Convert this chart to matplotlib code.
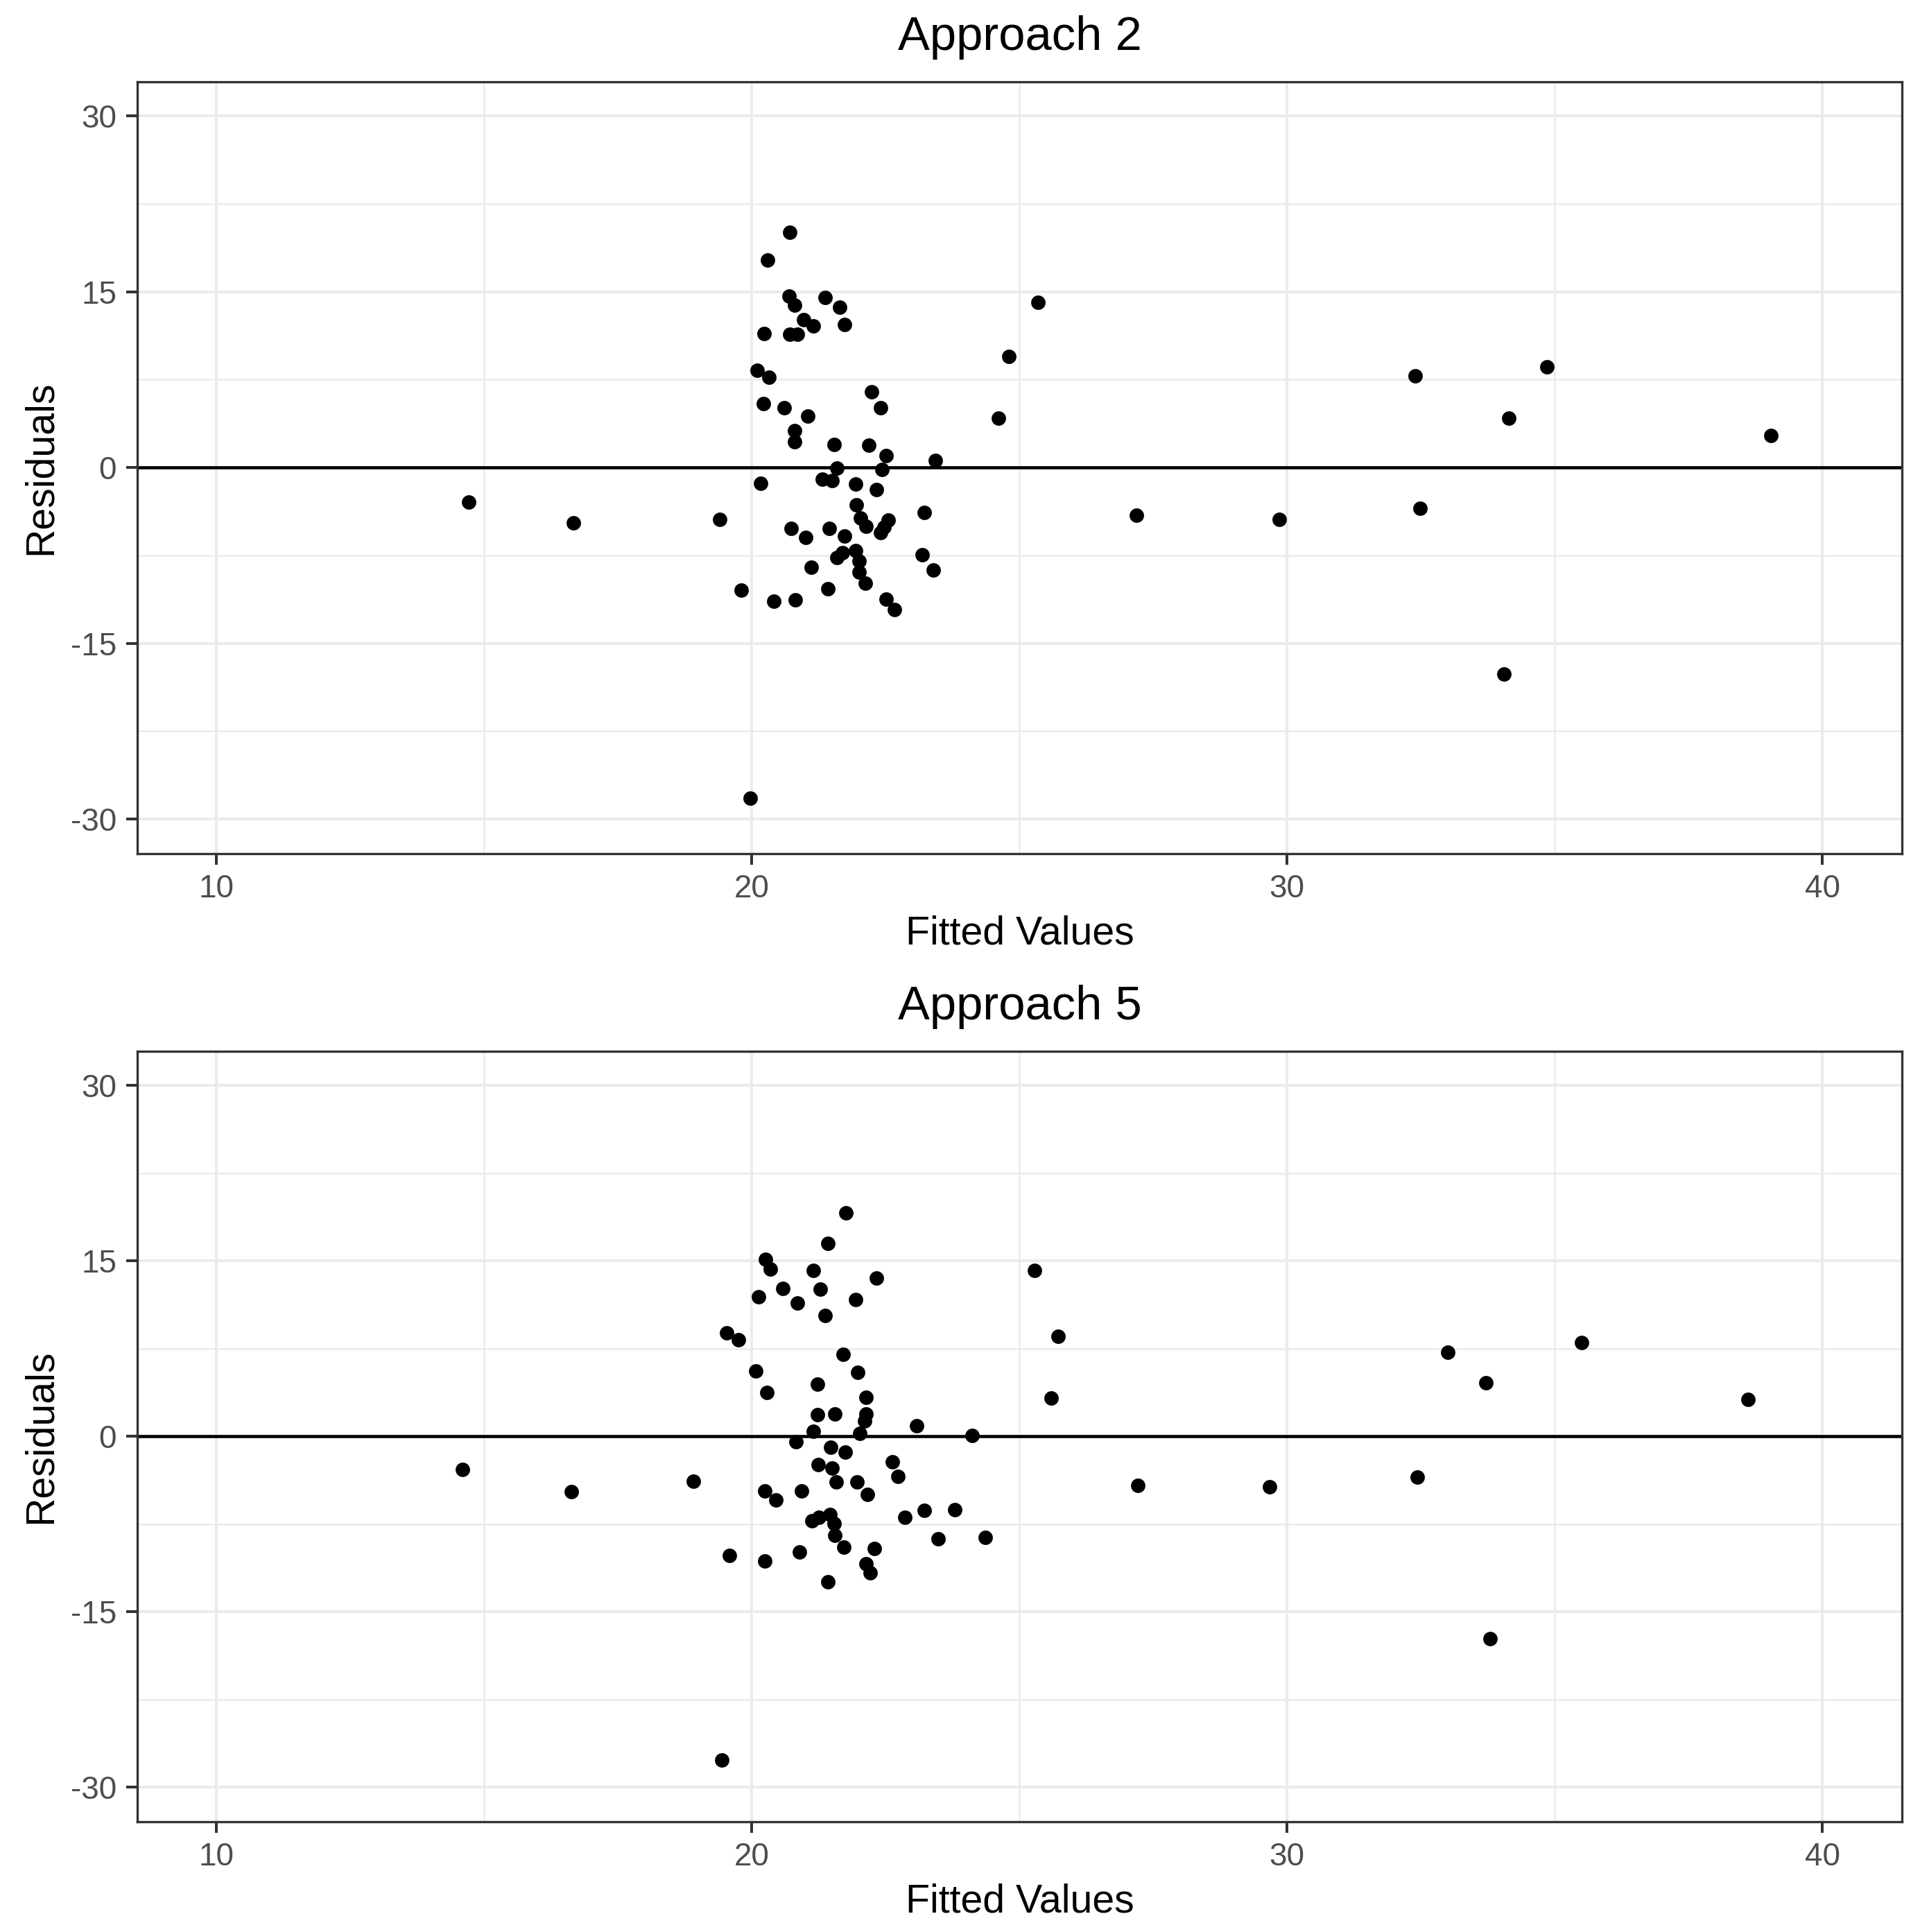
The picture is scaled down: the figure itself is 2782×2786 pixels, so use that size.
import matplotlib
matplotlib.use("Agg")
import matplotlib.pyplot as plt
from matplotlib.ticker import MultipleLocator

plt.rcParams['font.family'] = ['Liberation Sans', 'DejaVu Sans']
plt.rcParams['axes.unicode_minus'] = False

# residuals vs fitted, approach 2
fitted2 = [20.72, 20.30, 20.70, 20.81, 21.37, 21.64, 20.97, 21.15, 21.74, 20.24,
           20.71, 20.86, 20.11, 20.33, 22.24, 22.41, 20.22, 20.61, 21.05, 20.81,
           20.80, 21.54, 22.19, 22.51, 23.44, 21.59, 22.44, 20.17, 21.32, 21.51,
           21.95, 22.33, 21.96, 19.40, 23.23, 22.04, 22.14, 22.55, 22.47, 22.41,
           20.74, 21.01, 21.45, 21.74, 21.60, 21.70, 21.94, 22.01, 22.01, 22.12,
           23.19, 23.40, 21.12, 19.81, 20.42, 20.82, 21.42, 22.51, 22.67,
           14.72, 16.67, 24.61, 24.80, 25.35, 27.19, 29.86, 32.39, 32.49, 34.05,
           34.14, 34.86, 39.04, 19.98]
resid2 = [20.1, 17.7, 14.65, 13.87, 14.5, 13.7, 12.64, 12.1, 12.2, 11.44,
          11.36, 11.36, 8.3, 7.71, 6.46, 5.08, 5.44, 5.08, 4.41, 3.17,
          2.22, 1.94, 1.88, 0.99, 0.6, -0.03, -0.19, -1.37, -0.98, -1.14,
          -1.43, -1.88, -3.19, -4.43, -3.84, -4.33, -5.02, -4.47, -5.08, -5.58,
          -5.18, -5.97, -5.18, -5.83, -7.69, -7.29, -7.09, -7.98, -8.91, -9.86,
          -7.45, -8.75, -8.48, -10.45, -11.4, -11.28, -10.35, -11.24, -12.13,
          -2.95, -4.74, 4.2, 9.47, 14.1, -4.1, -4.4, 7.8, -3.47, -17.6,
          4.2, 8.6, 2.74, -28.2]

# residuals vs fitted, approach 5
fitted5 = [21.76, 21.42, 20.26, 20.35, 21.15, 22.33, 20.59, 21.29, 20.13, 20.86,
           21.95, 21.37, 19.54, 19.76, 21.71, 20.08, 21.98, 21.23, 20.29, 22.14,
           21.23, 21.55, 22.14, 22.11, 23.08, 21.16, 22.02, 24.12,
           20.83, 21.48, 21.75, 22.63, 22.73, 21.24, 21.50, 21.58, 21.97, 18.91,
           20.25, 20.46, 20.93, 22.16, 23.23, 23.79, 22.87, 23.48, 24.36, 21.13,
           21.26, 21.47, 21.54, 21.56, 21.73, 22.29, 22.14, 22.22, 19.59, 20.25,
           20.90, 21.42,
           14.60, 16.63, 25.28, 25.72, 25.60, 27.22, 29.68, 32.44, 33.01, 33.71,
           33.80, 35.50, 38.61, 19.44]
resid5 = [19.08, 16.52, 15.1, 14.31, 14.19, 13.52, 12.63, 12.57, 11.92, 11.39,
          11.69, 10.3, 8.82, 8.23, 7.01, 5.61, 5.47, 4.43, 3.73, 3.36,
          1.82, 1.88, 1.92, 1.29, 0.88, 0.44, 0.24, 0.05,
          -0.49, -0.94, -1.33, -2.18, -3.4, -2.42, -2.71, -3.9, -3.9, -3.86,
          -4.69, -5.44, -4.69, -4.98, -6.36, -6.3, -6.95, -8.77, -8.63, -7.21,
          -6.95, -6.66, -7.45, -8.47, -9.46, -9.58, -10.9, -11.69, -10.17, -10.64,
          -9.91, -12.44,
          -2.84, -4.74, 14.2, 8.53, 3.26, -4.2, -4.3, -3.47, 7.2, 4.6,
          -17.3, 8.0, 3.16, -27.7]

panels = [("Approach 2", fitted2, resid2), ("Approach 5", fitted5, resid5)]

W, H = 2782, 2786
fig = plt.figure(figsize=(W / 300, H / 300), dpi=300)
# panel boxes in pixels: left, top, right, bottom
px = [(197.7, 117.7, 2743.3, 1230.7), (197.7, 1515.7, 2743.3, 2626.7)]

for (title, fx, rx), (l, t, r, b) in zip(panels, px):
    ax = fig.add_axes([l / W, 1 - b / H, (r - l) / W, (b - t) / H])
    ax.set_xlim(8.524, 41.49)
    ax.set_ylim(-32.93, 32.93)
    ax.xaxis.set_major_locator(MultipleLocator(10))
    ax.xaxis.set_minor_locator(MultipleLocator(5))
    ax.yaxis.set_major_locator(MultipleLocator(15))
    ax.yaxis.set_minor_locator(MultipleLocator(7.5))
    ax.grid(which='major', color='#EBEBEB', linewidth=0.96)
    ax.grid(which='minor', color='#EBEBEB', linewidth=0.6)
    ax.set_axisbelow(True)
    ax.axhline(0, color='black', linewidth=1.1, zorder=2)
    ax.scatter(fx, rx, s=25, color='black', linewidths=0, zorder=3)
    for sp in ax.spines.values():
        sp.set_color('#333333')
        sp.set_linewidth(0.8)
    ax.tick_params(which='major', length=3.77, width=0.96, color='#333333',
                   labelsize=11, labelcolor='#4D4D4D', pad=3.3)
    ax.tick_params(which='minor', length=0)
    ax.set_xlabel("Fitted Values", fontsize=13.75, labelpad=3.6)
    ax.set_ylabel("Residuals", fontsize=13.75, labelpad=4)
    ax.set_title(title, fontsize=16.5, pad=11)

fig.savefig("out.png", dpi=300)
